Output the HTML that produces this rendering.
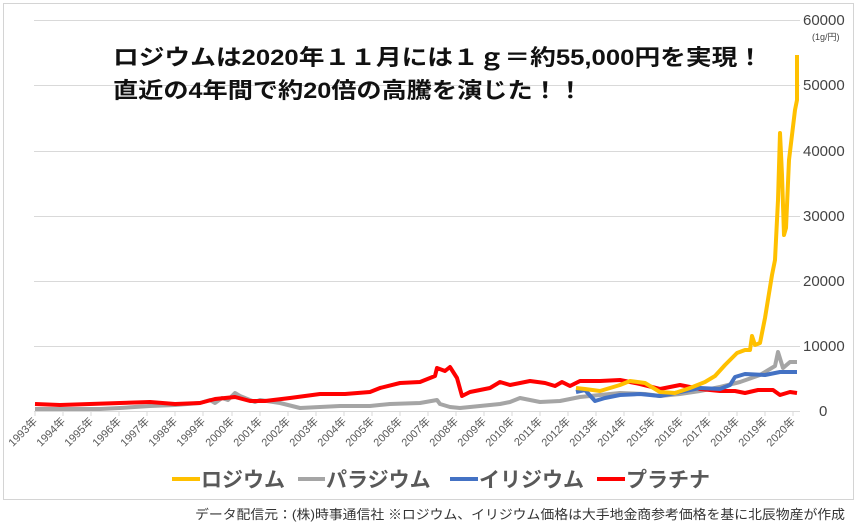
<!DOCTYPE html>
<html><head><meta charset="utf-8"><style>
html,body{margin:0;padding:0;background:#fff;}
svg{display:block;font-family:"Liberation Sans","Noto Sans CJK JP",sans-serif;}
</style></head><body>
<svg width="860" height="525" viewBox="0 0 860 525">
<rect x="3.5" y="3.5" width="850" height="496" fill="#fff" stroke="#d4d4d4"/>
<g stroke="#d9d9d9" stroke-width="1">
<line x1="34" y1="20.5" x2="800" y2="20.5"/>
<line x1="34" y1="85.5" x2="800" y2="85.5"/>
<line x1="34" y1="151.5" x2="800" y2="151.5"/>
<line x1="34" y1="216.5" x2="800" y2="216.5"/>
<line x1="34" y1="281.5" x2="800" y2="281.5"/>
<line x1="34" y1="346.5" x2="800" y2="346.5"/>
<line x1="34" y1="411.5" x2="800" y2="411.5"/>
</g>
<g stroke="#d9d9d9">
<path d="M35 411v5M63 411v5M91 411v5M119 411v5M147 411v5M175 411v5M203 411v5M232 411v5M260 411v5M288 411v5M316 411v5M344 411v5M372 411v5M400 411v5M428 411v5M456 411v5M484 411v5M512 411v5M540 411v5M568 411v5M596 411v5M624 411v5M653 411v5M681 411v5M709 411v5M737 411v5M765 411v5M793 411v5"/>
</g>
<g font-size="15" fill="#444">
<text x="803" y="25">60000</text>
<text x="803" y="90">50000</text>
<text x="803" y="156">40000</text>
<text x="803" y="221">30000</text>
<text x="803" y="286">20000</text>
<text x="803" y="351">10000</text>
<text x="819" y="416">0</text>
</g>
<text x="812" y="40" font-size="9" fill="#444">(1g/円)</text>
<g font-size="11" fill="#595959">
<text transform="translate(38,422) rotate(-45)" text-anchor="end">1993年</text>
<text transform="translate(66,422) rotate(-45)" text-anchor="end">1994年</text>
<text transform="translate(94,422) rotate(-45)" text-anchor="end">1995年</text>
<text transform="translate(122,422) rotate(-45)" text-anchor="end">1996年</text>
<text transform="translate(150,422) rotate(-45)" text-anchor="end">1997年</text>
<text transform="translate(178,422) rotate(-45)" text-anchor="end">1998年</text>
<text transform="translate(206,422) rotate(-45)" text-anchor="end">1999年</text>
<text transform="translate(235,422) rotate(-45)" text-anchor="end">2000年</text>
<text transform="translate(263,422) rotate(-45)" text-anchor="end">2001年</text>
<text transform="translate(291,422) rotate(-45)" text-anchor="end">2002年</text>
<text transform="translate(319,422) rotate(-45)" text-anchor="end">2003年</text>
<text transform="translate(347,422) rotate(-45)" text-anchor="end">2004年</text>
<text transform="translate(375,422) rotate(-45)" text-anchor="end">2005年</text>
<text transform="translate(403,422) rotate(-45)" text-anchor="end">2006年</text>
<text transform="translate(431,422) rotate(-45)" text-anchor="end">2007年</text>
<text transform="translate(459,422) rotate(-45)" text-anchor="end">2008年</text>
<text transform="translate(487,422) rotate(-45)" text-anchor="end">2009年</text>
<text transform="translate(515,422) rotate(-45)" text-anchor="end">2010年</text>
<text transform="translate(543,422) rotate(-45)" text-anchor="end">2011年</text>
<text transform="translate(571,422) rotate(-45)" text-anchor="end">2012年</text>
<text transform="translate(599,422) rotate(-45)" text-anchor="end">2013年</text>
<text transform="translate(627,422) rotate(-45)" text-anchor="end">2014年</text>
<text transform="translate(656,422) rotate(-45)" text-anchor="end">2015年</text>
<text transform="translate(684,422) rotate(-45)" text-anchor="end">2016年</text>
<text transform="translate(712,422) rotate(-45)" text-anchor="end">2017年</text>
<text transform="translate(740,422) rotate(-45)" text-anchor="end">2018年</text>
<text transform="translate(768,422) rotate(-45)" text-anchor="end">2019年</text>
<text transform="translate(796,422) rotate(-45)" text-anchor="end">2020年</text>
</g>
<g fill="none" stroke-width="4" stroke-linejoin="round">
<polyline stroke="#a5a5a5" points="35,409 100,409 120,408 150,406 175,405 200,403 210,400 215,403 222,398 228,400 235,393 240,396 255,402 260,400 280,403 300,408 320,407 340,406 370,406 390,404 420,403 437,400 440,404 450,407 460,408 480,406 500,404 510,402 520,398 540,402 560,401 580,397 600,395 620,393 645,394 660,396 680,394 700,391 720,387 740,382 760,375 775,366 778,352 783,368 790,362 797,362"/>
<polyline stroke="#ff0000" points="35,404 60,405 90,404 120,403 150,402 175,404 200,403 215,399 235,397 250,401 265,401 290,398 320,394 345,394 370,392 380,388 400,383 420,382 435,376 437,368 445,371 450,367 457,378 462,396 470,392 490,388 500,382 510,385 530,381 545,383 555,386 562,382 570,386 580,381 600,381 620,380 640,384 660,389 680,385 700,389 720,391 735,391 745,393 758,390 773,390 780,395 790,392 797,393"/>
<polyline stroke="#4472c4" points="576,392 585,390 595,401 605,398 620,395 640,394 660,396 680,392 700,388 720,389 730,385 735,377 745,374 765,375 780,372 797,372"/>
<polyline stroke="#ffc000" points="576,388 585,389 600,391 620,385 630,381 645,383 660,392 675,393 690,388 705,382 715,376 725,365 730,360 737,353 745,350 750,350 752,336 755,345 760,343 765,318 772,275 775,260 778,200 780,133 782,175 784,235 786,228 789,160 795,110 797,100 797,55"/>
</g>
<g font-size="22" font-weight="bold" fill="#111">
<text x="113" y="65" textLength="650" lengthAdjust="spacingAndGlyphs">ロジウムは2020年１１月には１ｇ＝約55,000円を実現！</text>
<text x="113" y="98" textLength="470" lengthAdjust="spacingAndGlyphs">直近の4年間で約20倍の高騰を演じた！！</text>
</g>
<g stroke-width="4">
<line x1="172" y1="479" x2="200" y2="479" stroke="#ffc000"/>
<line x1="298" y1="479" x2="325" y2="479" stroke="#a5a5a5"/>
<line x1="450" y1="479" x2="478" y2="479" stroke="#4472c4"/>
<line x1="597" y1="479" x2="625" y2="479" stroke="#ff0000"/>
</g>
<g font-size="21" font-weight="bold" fill="#595959">
<text x="201" y="487">ロジウム</text>
<text x="326" y="487">パラジウム</text>
<text x="479" y="487">イリジウム</text>
<text x="626" y="487">プラチナ</text>
</g>
<text x="195" y="519" font-size="13" fill="#333" textLength="650" lengthAdjust="spacingAndGlyphs">データ配信元：(株)時事通信社 ※ロジウム、イリジウム価格は大手地金商参考価格を基に北辰物産が作成</text>
</svg>
</body></html>
